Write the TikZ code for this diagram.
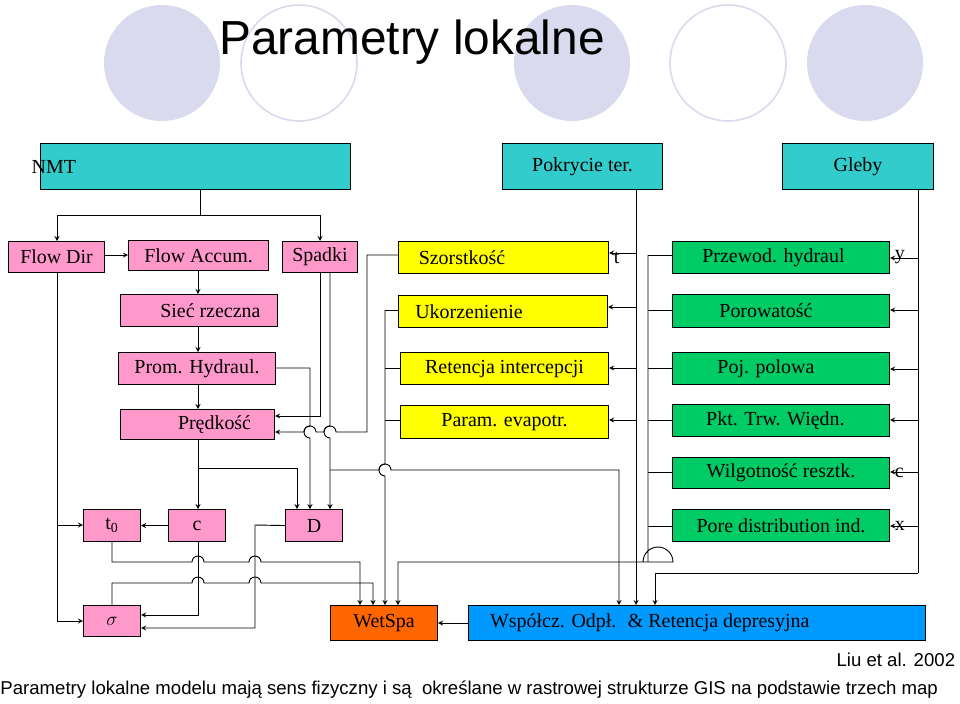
\documentclass[tikz,border=0pt]{standalone}
\usepackage{fontspec}
\setmainfont{Liberation Serif}
\newfontfamily\sansf{Liberation Sans}
\usetikzlibrary{positioning}
\definecolor{rozowy}{RGB}{255,153,204}
\definecolor{zolty}{RGB}{255,255,0}
\definecolor{zielony}{RGB}{0,204,102}
\definecolor{morski}{RGB}{51,204,204}
\definecolor{pomar}{RGB}{255,102,0}
\definecolor{niebieski}{RGB}{0,153,255}
\definecolor{lawenda}{RGB}{218,218,238}
\def\u{0.02646cm}
\tikzset{box/.style={draw, thick, inner sep=2pt, font=\fontsize{15}{17}\selectfont}}
\newcommand{\blok}[7]{\node[box, fill=#6, minimum width={(#4-#2)*\u}, minimum height={(#5-#3)*\u}, anchor=north west] (#1) at (#2,#3) {#7};}

\begin{document}
\begin{tikzpicture}[x=\u, y=-\u, >=stealth, line width=0.7pt]
        \useasboundingbox (0,0) rectangle (960,703);
        % Koła w tle
        \fill[lawenda] (162,63) ellipse (58 and 58);
        \draw[lawenda, line width=1.2pt] (299,63) ellipse (58 and 58);
        \fill[lawenda] (572,63) ellipse (58 and 58);
        \draw[lawenda, line width=1.2pt] (728,63) ellipse (58 and 58);
        \fill[lawenda] (865,63) ellipse (58 and 58);
        \node[font=\sansf\fontsize{36}{40}\selectfont] (tytul) at (412,42) {Parametry lokalne};

        % Mapy wejściowe
        \blok{nmt}{40}{143}{350}{189}{morski}{\hspace*{-7.5cm}NMT}
        \blok{pokr}{502}{143}{662}{189}{morski}{Pokrycie ter.}
        \blok{gleby}{782}{143}{933}{189}{morski}{Gleby}

        % NMT - bloki różowe
        \blok{fdir}{8}{241}{104}{272}{rozowy}{Flow Dir}
        \blok{facc}{128}{240}{268}{270}{rozowy}{Flow Accum.}
        \blok{spad}{282}{241}{357}{272}{rozowy}{Spadki}
        \blok{siec}{120}{294}{277}{326}{rozowy}{\hspace*{0.6cm}Sieć rzeczna}
        \blok{prom}{118}{352}{275}{384}{rozowy}{Prom. Hydraul.}
        \blok{pred}{120}{409}{274}{439}{rozowy}{\hspace*{0.9cm}Prędkość}
        \blok{tzero}{83}{509}{140}{541}{rozowy}{t\textsubscript{0}}
        \blok{cc}{168}{509}{225}{541}{rozowy}{c}
        \blok{dd}{285}{509}{342}{541}{rozowy}{D}
        \blok{sigma}{83}{605}{140}{636}{rozowy}{$\sigma$}

        % Pokrycie terenu - bloki żółte
        \blok{szor}{398}{241}{608}{273}{zolty}{\hspace*{-2.2cm}Szorstkość}
        \blok{ukor}{398}{295}{607}{327}{zolty}{\hspace*{-1.8cm}Ukorzenienie}
        \blok{ret}{400}{352}{608}{384}{zolty}{Retencja intercepcji}
        \blok{evap}{400}{405}{608}{438}{zolty}{Param. evapotr.}

        % Gleby - bloki zielone
        \blok{przew}{672}{241}{889}{273}{zielony}{\hspace*{-0.4cm}Przewod. hydraul}
        \blok{poro}{672}{294}{889}{327}{zielony}{\hspace*{-0.8cm}Porowatość}
        \blok{poj}{672}{352}{889}{384}{zielony}{\hspace*{-0.8cm}Poj. polowa}
        \blok{pkt}{672}{404}{889}{436}{zielony}{\hspace*{-0.3cm}Pkt. Trw. Więdn.}
        \blok{wilg}{672}{457}{889}{488}{zielony}{Wilgotność resztk.}
        \blok{pore}{672}{509}{889}{541}{zielony}{Pore distribution ind.}

        % Wyniki
        \blok{wet}{330}{605}{437}{640}{pomar}{WetSpa}
        \blok{wsp}{468}{605}{925}{640}{niebieski}{\hspace*{-2.5cm}Współcz. Odpł. \ \& Retencja depresyjna}

        % resztki tekstu
        \node[font=\fontsize{15}{17}\selectfont, right=0pt of szor] {t};
        \node[font=\fontsize{15}{17}\selectfont, right=0pt of przew] {y};
        \node[font=\fontsize{15}{17}\selectfont, right=0pt of wilg] {c};
        \node[font=\fontsize{15}{17}\selectfont, right=0pt of pore] {x};

        % Połączenia NMT
        \draw (nmt.south -| 200,0) -- (200,215);
        \draw[->] (57,215) -- (320,215) -- (spad.north -| 320,0);
        \draw[->] (200,215) -- (57,215) -- (fdir.north -| 57,0);
        \draw[->] (fdir.east |- 0,255) -- (facc.west |- 0,255);
        \draw[->] (facc.south -| 198,0) -- (siec.north -| 198,0);
        \draw[->] (siec.south -| 198,0) -- (prom.north -| 198,0);
        \draw[->] (prom.south -| 198,0) -- (pred.north -| 198,0);
        \draw[->] (320,272) -- (320,416) -- (pred.east |- 0,416);
        \draw[->] (330,272) -- (330,426) arc[start angle=270, end angle=90, radius=6] -- (dd.north -| 330,0);
        \draw[->] (szor.west |- 0,255) -- (367,255) -- (367,432) -- (336,432) arc[start angle=0, end angle=-180, radius=6]
                  -- (316,432) arc[start angle=0, end angle=-180, radius=6] -- (pred.east |- 0,432);
        \draw[->] (prom.east |- 0,368) -- (310,368) -- (310,426) arc[start angle=270, end angle=90, radius=6] -- (dd.north -| 310,0);
        \draw[->] (pred.south -| 198,0) -- (cc.north -| 198,0);
        \draw[->] (198,468) -- (297,468) -- (dd.north -| 297,0);
        \draw[->] (330,470) -- (379,470) arc[start angle=180, end angle=360, radius=6] -- (619,470) -- (wsp.north -| 619,0);

        % Połączenia t0, c, D, sigma
        \draw[->] (fdir.south -| 57,0) -- (57,621) -- (sigma.west |- 0,621);
        \draw[->] (57,525) -- (tzero.west |- 0,525);
        \draw[->] (cc.west) -- (tzero.east);
        \draw[->] (tzero.south -| 112,0) -- (112,562) -- (192,562) arc[start angle=180, end angle=360, radius=6]
                  -- (249,562) arc[start angle=180, end angle=360, radius=6] -- (360,562) -- (wet.north -| 360,0);
        \draw[->] (sigma.north -| 112,0) -- (112,583) -- (192,583) arc[start angle=180, end angle=360, radius=6]
                  -- (249,583) arc[start angle=180, end angle=360, radius=6] -- (373,583) -- (wet.north -| 373,0);
        \draw[->] (cc.south -| 198,0) -- (198,615) -- (sigma.east |- 0,615);
        \draw[->] (dd.west) -- (255,525) -- (255,628) -- (sigma.east |- 0,628);

        % Pokrycie terenu
        \draw (pokr.south -| 636,0) -- (636,253);
        \draw[->] (636,253) -- (szor.east |- 0,253);
        \draw[->] (636,307) -- (ukor.east |- 0,307);
        \draw[->] (636,368) -- (ret.east |- 0,368);
        \draw[->] (636,420) -- (evap.east |- 0,420);
        \draw[->] (636,253) -- (wsp.north -| 636,0);
        \draw (ukor.west |- 0,310) -- (385,310);
        \draw (ret.west |- 0,368) -- (385,368);
        \draw (evap.west |- 0,420) -- (385,420);
        \draw[->] (385,310) -- (385,464) arc[start angle=270, end angle=90, radius=6] -- (wet.north -| 385,0);

        % Gleby
        \draw (gleby.south -| 918,0) -- (918,573);
        \foreach \nazwa/\yy in {przew/258, poro/310, poj/369, pkt/420, wilg/472, pore/526}
            \draw[->] (918,\yy) -- (\nazwa.east |- 0,\yy);
        \draw[->] (918,573) -- (655,573) -- (wsp.north -| 655,0);
        \foreach \nazwa/\yy in {przew/255, poro/310, poj/368, pkt/420, wilg/472, pore/526}
            \draw (\nazwa.west |- 0,\yy) -- (648,\yy);
        \draw[->] (648,255) -- (648,562) -- (643,562) arc[start angle=0, end angle=180, radius=-15]
                  -- (398,562) -- (wet.north -| 398,0);

        % Wyniki
        \draw[->] (wsp.west) -- (wet.east);

        % Podpisy
        \node[font=\sansf\fontsize{14}{16}\selectfont, anchor=east] (zrodlo) at (960,660) {Liu et al. 2002};
        \node[font=\sansf\fontsize{14}{16}\selectfont, anchor=west, inner sep=0pt] (opis) at (0,690)
             {Parametry lokalne modelu mają sens fizyczny i są \ określane w rastrowej strukturze GIS na podstawie trzech map};
\end{tikzpicture}
\end{document}
